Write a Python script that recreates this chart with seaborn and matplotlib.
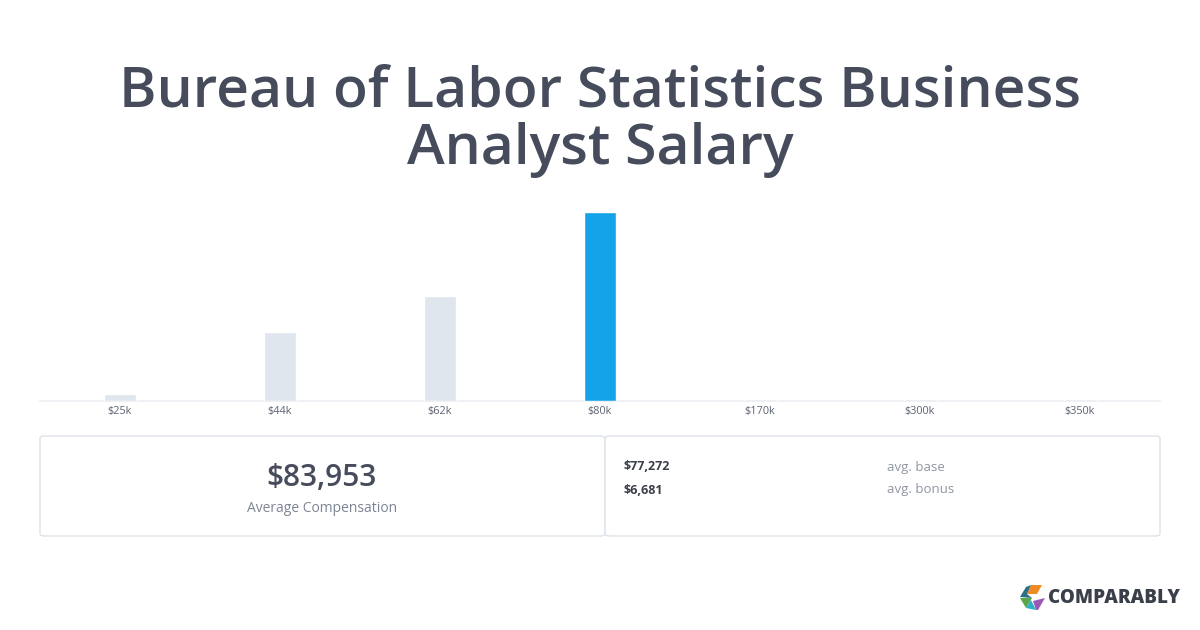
import matplotlib
matplotlib.use("Agg")
import pandas as pd
import seaborn as sns
import matplotlib.pyplot as plt
from matplotlib.patches import FancyBboxPatch, Polygon

# salary buckets and relative bar heights
buckets = ["$25k", "$44k", "$62k", "$80k", "$170k", "$300k", "$350k"]
share = [3.7, 36.5, 55.6, 100, 1.3, 1.0, 1.0]
highlight = "$80k"

title = "Bureau of Labor Statistics Business\nAnalyst Salary"
avg_comp = "$83,953"
avg_label = "Average Compensation"
detail_values = ["$77,272", "$6,681"]
detail_labels = ["avg. base", "avg. bonus"]

DARK = "#464c5c"
GREY = "#7d8594"
LIGHT_BAR = "#dfe6ee"
BLUE = "#12a3e8"
BORDER = "#dde3ea"

sns.set_theme(style="white")
plt.rcParams["font.family"] = ["Open Sans", "DejaVu Sans"]

W, H = 1200, 630
fig = plt.figure(figsize=(W / 100, H / 100), dpi=100)
fig.patch.set_facecolor("white")


def fx(px):
    return px / W


def fy(py):
    return 1 - py / H


df = pd.DataFrame({"bucket": buckets, "share": share})
colors = {b: (BLUE if b == highlight else LIGHT_BAR) for b in buckets}

ax = fig.add_axes([fx(40), fy(401), fx(1120), 189 / H])
sns.barplot(data=df, x="bucket", y="share", hue="bucket", palette=colors,
            width=0.2, legend=False, ax=ax, saturation=1, zorder=3)
ax.set_xlim(-0.5, len(buckets) - 0.5)
ax.set_ylim(0, 100)
for s in ["top", "right", "left"]:
    ax.spines[s].set_visible(False)
ax.spines["bottom"].set_color("#eceff3")
ax.spines["bottom"].set_linewidth(1.2)
ax.spines["bottom"].set_zorder(1)
ax.set_yticks([])
ax.set_xlabel("")
ax.set_ylabel("")
ax.tick_params(axis="x", length=0, pad=3.5, labelsize=7.8, labelcolor="#5c6472")

fig.text(0.5, fy(121), title, ha="center", va="center", fontsize=41,
         color=DARK, fontweight="semibold", linespacing=1.03)

# summary boxes
for x0, x1 in [(40, 605), (605, 1160)]:
    box = FancyBboxPatch((fx(x0), fy(536)), fx(x1 - x0), (536 - 436) / H,
                         boxstyle="round,pad=0,rounding_size=0.004",
                         transform=fig.transFigure, facecolor="white",
                         edgecolor=BORDER, linewidth=1)
    fig.patches.append(box)

fig.text(fx(322), fy(478), avg_comp, ha="center", va="center", fontsize=21.5,
         color=DARK, fontweight="semibold")
fig.text(fx(322), fy(508), avg_label, ha="center", va="center", fontsize=10,
         color=GREY)

for i, (v, lab) in enumerate(zip(detail_values, detail_labels)):
    y = 467 + 23 * i
    fig.text(fx(624), fy(y), v, ha="left", va="center", fontsize=9,
             color="#3a3f4a", fontweight="bold")
    fig.text(fx(887), fy(y), lab, ha="left", va="center", fontsize=9.5,
             color="#9097a3")

# logo
icon = [
    ([(1031, 585), (1042, 585), (1037, 594), (1027, 594)], "#f08a24"),
    ([(1020, 597), (1026, 587), (1031, 585), (1027, 594), (1032, 598)], "#2b6f86"),
    ([(1020, 598), (1032, 598), (1026, 608)], "#5aa64a"),
    ([(1026, 608), (1031, 600), (1036, 610)], "#2ab0c9"),
    ([(1033, 601), (1045, 598), (1038, 610), (1036, 610)], "#9b59b6"),
]
for pts, c in icon:
    fig.patches.append(Polygon([(fx(a), fy(b)) for a, b in pts], closed=True,
                               transform=fig.transFigure, facecolor=c,
                               edgecolor="none"))
fig.text(fx(1048), fy(598), "COMPARABLY", ha="left", va="center", fontsize=13.5,
         color="#3a3f4a", fontweight="heavy")

fig.savefig("out.png", dpi=100, facecolor="white")
